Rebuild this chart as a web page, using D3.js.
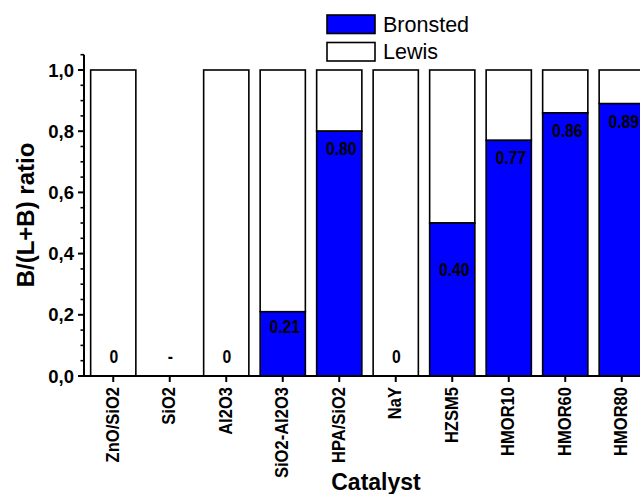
<!DOCTYPE html>
<html>
<head>
<meta charset="utf-8">
<script src="https://cdn.jsdelivr.net/npm/d3@7"></script>
<style>
  html, body { margin: 0; padding: 0; background: #fff; }
  svg { display: block; }
  text { font-family: "Liberation Sans", Arial, sans-serif; }
</style>
</head>
<body>
<svg id="chart" width="640" height="494"></svg>
<script>
// Catalysts on the x axis
const catalysts = ["ZnO/SiO2", "SiO2", "Al2O3", "SiO2-Al2O3", "HPA/SiO2", "NaY", "HZSM5", "HMOR10", "HMOR60", "HMOR80"];
// Bronsted fraction B/(L+B); null = not measured (no bar)
const bronsted = [0, null, 0, 0.21, 0.80, 0, 0.50, 0.77, 0.86, 0.89];
// Text printed inside each bar
const valueLabels = ["0", "-", "0", "0.21", "0.80", "0", "0.40", "0.77", "0.86", "0.89"];
// Y axis ticks
const yMajorTicks = [0, 0.2, 0.4, 0.6, 0.8, 1.0];
const yMinorTicks = [0.05, 0.1, 0.15, 0.25, 0.3, 0.35, 0.45, 0.5, 0.55, 0.65, 0.7, 0.75, 0.85, 0.9, 0.95, 1.05];
const legendItems = [
  { name: "Bronsted", fill: "#0000ff" },
  { name: "Lewis", fill: "#ffffff" }
];

const svg = d3.select("#chart");
const x0 = 84, yBase = 376, step = 56.5;

const x = d3.scaleBand()
  .domain(catalysts)
  .range([x0 + 1, x0 + 1 + step * catalysts.length])
  .paddingInner(0.2)
  .paddingOuter(0.1);

const y = d3.scaleLinear().domain([0, 1.05]).range([yBase, yBase - 1.05 * 306]);

const rows = catalysts.map((c, i) => ({ c, b: bronsted[i], label: valueLabels[i] }));

// stacked bars: Lewis part on top, Bronsted part underneath
const bars = svg.append("g");
rows.filter(d => d.b !== null).forEach(d => {
  bars.append("rect")
    .attr("x", x(d.c)).attr("width", x.bandwidth())
    .attr("y", y(1)).attr("height", y(d.b) - y(1))
    .attr("fill", "#ffffff").attr("stroke", "#000").attr("stroke-width", 1.6);
  if (d.b > 0) {
    bars.append("rect")
      .attr("x", x(d.c)).attr("width", x.bandwidth())
      .attr("y", y(d.b)).attr("height", y(0) - y(d.b))
      .attr("fill", "#0000ff").attr("stroke", "#000").attr("stroke-width", 1.6);
  }
});

// value labels inside the bars (condensed bold)
rows.forEach(d => {
  const v = parseFloat(d.label);
  const base = isNaN(v) || v === 0 ? y(0) - 13 : y(v) + 20 + 5 * v;
  const cx = x(d.c) + x.bandwidth() / 2 + (d.label.length > 1 ? 2 : 0.5);
  svg.append("text")
    .attr("transform", `translate(${cx},${base}) scale(0.83,1)`)
    .attr("text-anchor", "middle")
    .attr("font-weight", "bold").attr("font-size", 19)
    .attr("fill", "#000")
    .text(d.label);
});

// y axis
const yAxisG = svg.append("g");
yAxisG.append("line").attr("x1", x0).attr("x2", x0).attr("y1", y(1.05)).attr("y2", yBase + 1)
  .attr("stroke", "#000").attr("stroke-width", 2);
yMajorTicks.forEach(t => {
  yAxisG.append("line").attr("x1", x0 - 6).attr("x2", x0).attr("y1", y(t)).attr("y2", y(t))
    .attr("stroke", "#000").attr("stroke-width", 2);
  yAxisG.append("text").attr("x", x0 - 10).attr("y", y(t)).attr("dy", "0.36em")
    .attr("text-anchor", "end").attr("font-weight", "bold").attr("font-size", 18.5)
    .text(d3.format(".1f")(t).replace(".", ","));
});
yMinorTicks.forEach(t => {
  yAxisG.append("line").attr("x1", x0 - 3.5).attr("x2", x0).attr("y1", y(t)).attr("y2", y(t))
    .attr("stroke", "#000").attr("stroke-width", 1.6);
});

// x axis
const xAxisG = svg.append("g");
xAxisG.append("line").attr("x1", x0 - 1).attr("x2", 640).attr("y1", yBase).attr("y2", yBase)
  .attr("stroke", "#000").attr("stroke-width", 2);
catalysts.forEach(c => {
  const cx = x(c) + x.bandwidth() / 2;
  xAxisG.append("line").attr("x1", cx).attr("x2", cx).attr("y1", yBase).attr("y2", yBase + 6)
    .attr("stroke", "#000").attr("stroke-width", 2);
  xAxisG.append("text")
    .attr("transform", `translate(${cx + 5.5},${yBase + 11}) rotate(-90) scale(0.92,1)`)
    .attr("text-anchor", "end").attr("font-weight", "bold").attr("font-size", 18)
    .text(c);
});

// axis titles
svg.append("text")
  .attr("transform", `translate(33.5,215) rotate(-90)`)
  .attr("text-anchor", "middle").attr("font-weight", "bold").attr("font-size", 24)
  .text("B/(L+B) ratio");
svg.append("text")
  .attr("x", 376).attr("y", 490)
  .attr("text-anchor", "middle").attr("font-weight", "bold").attr("font-size", 23)
  .text("Catalyst");

// legend
const legend = svg.append("g");
legendItems.forEach((d, i) => {
  const ly = 15 + i * 27.5;
  legend.append("rect").attr("x", 327).attr("y", ly).attr("width", 48).attr("height", 18.5)
    .attr("fill", d.fill).attr("stroke", "#000").attr("stroke-width", 1.6);
  legend.append("text").attr("x", 383).attr("y", ly + 16.8)
    .attr("font-size", 21.5).attr("fill", "#000")
    .text(d.name);
});
</script>
</body>
</html>
